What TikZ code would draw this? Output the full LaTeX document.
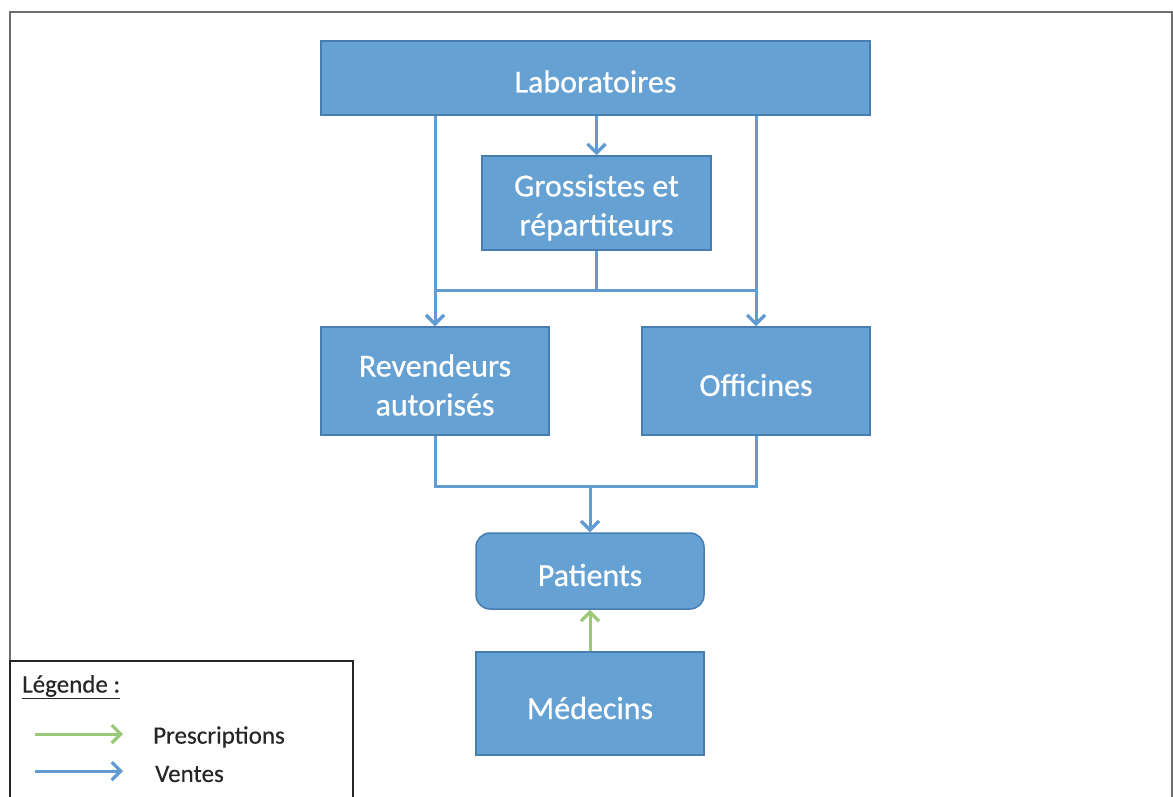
\documentclass[tikz,border=0pt]{standalone}
\usepackage{fontspec}
\setmainfont{Carlito}
\newfontfamily\boxfont[FakeBold=0.6]{Carlito}
\newfontfamily\legfont[FakeBold=0.3]{Carlito}
\usetikzlibrary{arrows.meta}
\definecolor{boxfill}{RGB}{101,161,211}
\definecolor{boxline}{RGB}{72,125,178}
\definecolor{flow}{RGB}{96,156,210}
\definecolor{presc}{RGB}{155,201,122}
\definecolor{frame}{RGB}{110,110,110}
\tikzset{
  box/.style={draw=boxline, line width=1.5pt, fill=boxfill, inner sep=0pt},
  boxtext/.style={text=white, inner sep=0pt, align=center, font=\boxfont\fontsize{32}{39}\selectfont},
  flowline/.style={draw=flow, line width=3pt},
  arr/.style={flowline, -{Straight Barb[length=9pt,width=18pt,line width=3.2pt]}},
  parr/.style={draw=presc, line width=3pt, -{Straight Barb[length=9pt,width=18pt,line width=3.2pt]}},
  legtext/.style={anchor=west, inner sep=0pt, text=black!85, font=\legfont\fontsize{25}{30}\selectfont}
}
\begin{document}
\begin{tikzpicture}[x=1pt,y=-1pt]
\useasboundingbox (0,0) rectangle (1173,796);
\fill[white] (0,0) rectangle (1173,796);
% outer frame
\draw[frame, line width=2pt] (10,800) -- (10,12) -- (1172,12) -- (1172,800);
% boxes
\node[box, minimum width=549pt, minimum height=74pt] (lab) at (595.5,78) {};
\node[box, minimum width=229pt, minimum height=94pt] (gro) at (596.5,203) {};
\node[box, minimum width=228pt, minimum height=108pt] (rev) at (435,381) {};
\node[box, minimum width=228pt, minimum height=108pt] (off) at (756,381) {};
\node[box, rounded corners=14pt, minimum width=228pt, minimum height=76pt] (pat) at (590,571) {};
\node[box, minimum width=228pt, minimum height=103pt] (med) at (590,703.5) {};
\node[boxtext] (labt) at ([yshift=-3.5pt]lab.center) {Laboratoires};
\node[boxtext] (grot) at ([yshift=-4.5pt]gro.center) {Grossistes et\\répartiteurs};
\node[boxtext] (revt) at ([yshift=-4pt]rev.center) {Revendeurs\\autorisés};
\node[boxtext] (offt) at ([yshift=-4pt]off.center) {Officines};
\node[boxtext] (patt) at ([yshift=-4pt]pat.center) {Patients};
\node[boxtext] (medt) at ([yshift=-4.5pt]med.center) {Médecins};
% connectors
\draw[arr] (rev.north |- lab.south) -- (rev.north);
\draw[arr] (gro.north |- lab.south) -- (gro.north);
\draw[arr] (off.north |- lab.south) -- (off.north);
\coordinate (j1) at (596.5,290);
\draw[flowline] (gro.south) -- (j1);
\draw[flowline] (rev.north |- j1) -- (off.north |- j1);
\coordinate (j2) at (590,486);
\draw[flowline] (rev.south) -- (rev.south |- j2) -- (off.south |- j2) -- (off.south);
\draw[arr] (j2) -- (pat.north);
\draw[parr] (med.north) -- (pat.south);
% legend
\draw[black!85, line width=1.5pt] (10,800) -- (10,661) -- (353,661) -- (353,800);
\node[legtext] (legt) at (22,687) {\underline{Légende :}};
\coordinate (pa) at (35,734);
\coordinate (pb) at (123,734);
\draw[parr] (pa) -- (pb);
\node[legtext] (lp) at (153,737) {Prescriptions};
\coordinate (va) at (35,771);
\coordinate (vb) at (123,771);
\draw[arr] (va) -- (vb);
\node[legtext] (lv) at (155,774) {Ventes};
\end{tikzpicture}
\end{document}
